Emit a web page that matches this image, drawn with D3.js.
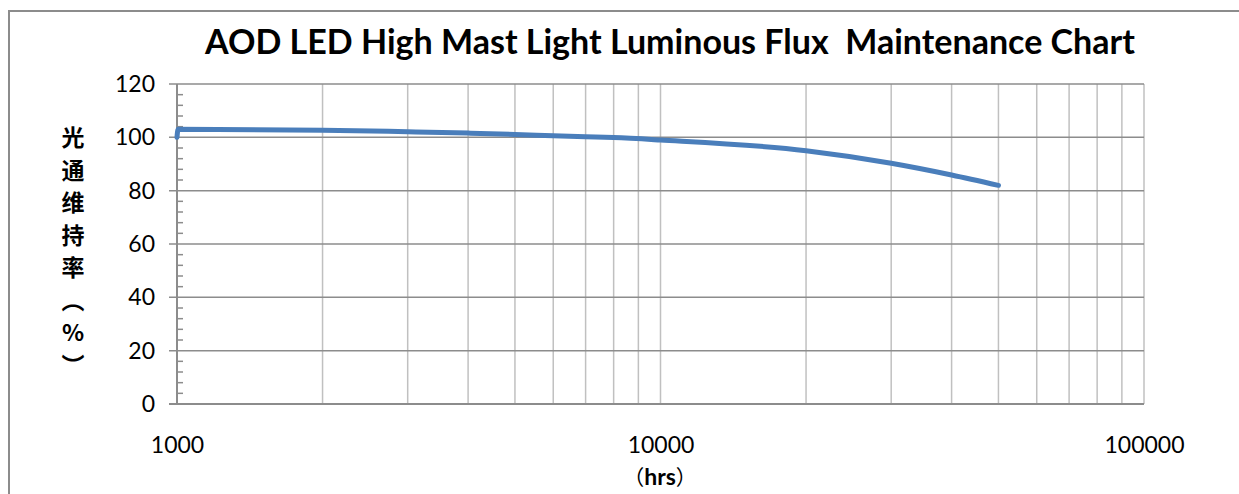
<!DOCTYPE html>
<html>
<head>
<meta charset="utf-8">
<script src="https://cdn.jsdelivr.net/npm/d3@7"></script>
<style>
  html, body { margin: 0; padding: 0; background: #fff; }
  svg { display: block; }
</style>
</head>
<body>
<div id="chart"></div>
<script>
// chart data
var title = "AOD LED High Mast Light Luminous Flux  Maintenance Chart";
var yTitle = "光通维持率（%）";
var xTitleParts = ["（", "hrs", "）"];
var hours = [1000, 1005, 2000, 3000, 4000, 5000, 6000, 7000, 8000, 10000, 20000, 30000, 40000, 50000];
var flux  = [100, 103, 102.7, 102.1, 101.6, 101.1, 100.6, 100.2, 99.9, 99, 95, 90.3, 85.9, 82];
var xTickValues = [1000, 10000, 100000];
var yTickValues = [0, 20, 40, 60, 80, 100, 120];

var W = 1239, H = 494;
var m = { left: 177, right: 1144, top: 84, bottom: 404 };

var svg = d3.select("#chart").append("svg")
  .attr("width", W)
  .attr("height", H);

var x = d3.scaleLog().domain([1000, 100000]).range([m.left, m.right]);
var y = d3.scaleLinear().domain([0, 120]).range([m.bottom, m.top]);

// outer frame
svg.append("rect")
  .attr("x", 9).attr("y", 11)
  .attr("width", W + 10).attr("height", H + 10)
  .attr("fill", "none")
  .attr("stroke", "#8c8c8c")
  .attr("stroke-width", 2);

// vertical grid (every log minor step)
var xMinor = [];
[1000, 10000].forEach(function (d) {
  for (var k = 1; k < 10; k++) xMinor.push(d * k);
});
xMinor.push(100000);

svg.append("g").selectAll("line")
  .data(xMinor)
  .enter().append("line")
  .attr("x1", function (d) { return x(d); })
  .attr("x2", function (d) { return x(d); })
  .attr("y1", y(120))
  .attr("y2", y(0))
  .attr("stroke", "#c0c0c0")
  .attr("stroke-width", 1.5);

// horizontal grid
svg.append("g").selectAll("line")
  .data(yTickValues.filter(function (d) { return d > 0; }))
  .enter().append("line")
  .attr("x1", m.left - 8)
  .attr("x2", m.right)
  .attr("y1", function (d) { return y(d); })
  .attr("y2", function (d) { return y(d); })
  .attr("stroke", "#8c8c8c")
  .attr("stroke-width", 1.5);

// y axis line + minor ticks
var yMinor = d3.range(0, 121, 4).filter(function (d) { return d % 20 !== 0; });
svg.append("line")
  .attr("x1", m.left).attr("x2", m.left)
  .attr("y1", y(120)).attr("y2", y(0))
  .attr("stroke", "#8c8c8c").attr("stroke-width", 2);
svg.append("g").selectAll("line")
  .data(yMinor)
  .enter().append("line")
  .attr("x1", m.left)
  .attr("x2", m.left + 6)
  .attr("y1", function (d) { return y(d); })
  .attr("y2", function (d) { return y(d); })
  .attr("stroke", "#8c8c8c")
  .attr("stroke-width", 1.5);

// x axis line
svg.append("line")
  .attr("x1", m.left - 8).attr("x2", m.right)
  .attr("y1", y(0)).attr("y2", y(0))
  .attr("stroke", "#8c8c8c").attr("stroke-width", 2);

// y tick labels
var yAxis = d3.axisLeft(y).tickValues(yTickValues).tickSize(0).tickPadding(22);
var gy = svg.append("g")
  .attr("transform", "translate(" + m.left + ",0)")
  .call(yAxis);
gy.select(".domain").remove();
gy.selectAll("text")
  .attr("font-family", "Lato, 'Open Sans', sans-serif")
  .attr("font-size", "23px")
  .attr("fill", "#000");

// x tick labels
var xAxis = d3.axisBottom(x).tickValues(xTickValues).tickFormat(d3.format("d")).tickSize(0).tickPadding(33);
var gx = svg.append("g")
  .attr("transform", "translate(0," + m.bottom + ")")
  .call(xAxis);
gx.select(".domain").remove();
gx.selectAll("text")
  .attr("font-family", "Lato, 'Open Sans', sans-serif")
  .attr("font-size", "23px")
  .attr("fill", "#000");

// series line
var line = d3.line()
  .x(function (d) { return x(d[0]); })
  .y(function (d) { return y(d[1]); })
  .curve(d3.curveMonotoneX);

svg.append("path")
  .datum(d3.zip(hours, flux))
  .attr("d", line)
  .attr("fill", "none")
  .attr("stroke", "#4a7ebb")
  .attr("stroke-width", 5)
  .attr("stroke-linecap", "round")
  .attr("stroke-linejoin", "round");

// title
var t = svg.append("text")
  .attr("x", 670)
  .attr("y", 54)
  .attr("text-anchor", "middle")
  .attr("font-family", "Lato, 'Open Sans', sans-serif")
  .attr("font-weight", "bold")
  .attr("font-size", "31px")
  .attr("fill", "#000")
  .style("white-space", "pre")
  .text(title);
var tw = t.node().getComputedTextLength();
t.attr("font-size", (31 * 930 / tw).toFixed(2) + "px");

// y axis title (vertical)
svg.append("text")
  .attr("x", 73)
  .attr("y", 126)
  .attr("font-family", "'Noto Sans CJK SC', sans-serif")
  .attr("font-weight", "bold")
  .attr("font-size", "23px")
  .attr("fill", "#000")
  .style("writing-mode", "vertical-rl")
  .style("text-orientation", "upright")
  .style("letter-spacing", "9.5px")
  .text(yTitle);

// x axis title
var xt = svg.append("text")
  .attr("x", 660)
  .attr("y", 485)
  .attr("text-anchor", "middle")
  .attr("font-family", "'Noto Sans CJK SC', sans-serif")
  .attr("font-size", "21px")
  .attr("fill", "#000");
xt.selectAll("tspan")
  .data(xTitleParts)
  .enter().append("tspan")
  .attr("font-family", function (d, i) { return i === 1 ? "Lato, sans-serif" : null; })
  .attr("font-weight", function (d, i) { return i === 1 ? "bold" : "normal"; })
  .attr("font-size", function (d, i) { return i === 1 ? "23px" : null; })
  .text(function (d) { return d; });
</script>
</body>
</html>
